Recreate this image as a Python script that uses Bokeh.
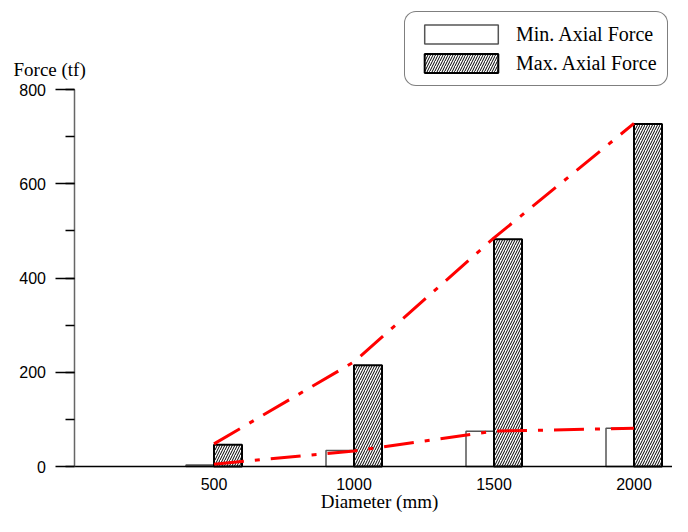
from bokeh.plotting import figure
from bokeh.models import (ColumnDataSource, Legend, LegendItem, Label, FixedTicker,
                          SingleIntervalTicker, Range1d)
from bokeh.transform import dodge
from bokeh.embed import file_html
from bokeh.resources import INLINE

# ---- data ----
diameters = [500, 1000, 1500, 2000]
min_force = [3, 34, 75, 81]
max_force = [46, 215, 482, 727]
min_trend = [5, 33, 75, 81]
max_trend = [48, 222, 485, 728]
x_ticks = [500, 1000, 1500, 2000]
series_names = ["Min. Axial Force", "Max. Axial Force"]
y_title = "Force (tf)"
x_title = "Diameter (mm)"

SERIF = "Liberation Serif"
SANS = "Liberation Sans"

W, H = 672, 516
# pixel layout of the plotting area (frame spans the whole canvas)
X0_PX, SX = 73.5, 0.28        # px of x=0, px per mm
Y0_PX, SY = 466.0, 0.47125    # px (from top) of y=0, px per tf

x_range = Range1d(-X0_PX / SX, (W - X0_PX) / SX)
y_range = Range1d(-(H - Y0_PX) / SY, Y0_PX / SY)

src = ColumnDataSource(dict(d=diameters, mn=min_force, mx=max_force,
                            tmn=min_trend, tmx=max_trend))

p = figure(width=W, height=H, output_backend="svg", toolbar_location=None,
           x_range=x_range, y_range=y_range,
           min_border_left=0, min_border_right=0, min_border_top=0,
           min_border_bottom=0, background_fill_color="white",
           border_fill_color="white")
p.outline_line_color = None
p.xgrid.visible = False
p.ygrid.visible = False

# bars
r_min = p.vbar(x=dodge("d", -50, range=p.x_range), top="mn", bottom=0, width=100,
               source=src, fill_color="white", line_color="#555555", line_width=1.5)
r_max = p.vbar(x=dodge("d", 50, range=p.x_range), top="mx", bottom=0, width=100,
               source=src, fill_color="white", line_color="black", line_width=2,
               hatch_pattern="/", hatch_color="black", hatch_weight=1, hatch_scale=5)

# trend lines
p.line(x="d", y="tmx", source=src, line_color="#ff0000", line_width=3,
       line_dash="30 11 5 11")
p.line(x="d", y="tmn", source=src, line_color="#ff0000", line_width=3,
       line_dash="30 11 5 11")

# y axis
ya = p.yaxis[0]
ya.fixed_location = 0
ya.ticker = SingleIntervalTicker(interval=200, num_minor_ticks=2)
ya.bounds = (0, 800)
ya.axis_line_color = "#666666"
ya.axis_line_width = 1.5
ya.major_tick_line_color = "black"
ya.major_tick_line_width = 1.5
ya.major_tick_out = 19
ya.major_tick_in = 0
ya.minor_tick_line_color = "black"
ya.minor_tick_line_width = 1.5
ya.minor_tick_out = 9
ya.minor_tick_in = 0
ya.major_label_standoff = 9
ya.major_label_text_font = SANS
ya.major_label_text_font_size = "16px"
ya.major_label_text_color = "black"

# x axis
xa = p.xaxis[0]
xa.fixed_location = 0
xa.ticker = FixedTicker(ticks=x_ticks, minor_ticks=[])
xa.bounds = (0, x_range.end)
xa.axis_line_color = "black"
xa.axis_line_width = 1.5
xa.major_tick_out = 0
xa.major_tick_in = 0
xa.minor_tick_out = 0
xa.minor_tick_in = 0
xa.major_label_standoff = 11
xa.major_label_text_font = SANS
xa.major_label_text_font_size = "16px"
xa.major_label_text_color = "black"

# axis titles
p.add_layout(Label(x=(13 - X0_PX) / SX, y=(Y0_PX - 68.5) / SY, text=y_title,
                   text_font=SERIF, text_font_size="19px", text_color="black",
                   text_baseline="alphabetic", text_align="left"))
p.add_layout(Label(x=(379 - X0_PX) / SX, y=(Y0_PX - 501) / SY, text=x_title,
                   text_font=SERIF, text_font_size="19px", text_color="black",
                   text_baseline="alphabetic", text_align="center"))

# legend
legend = Legend(items=[LegendItem(label=series_names[0], renderers=[r_min]),
                       LegendItem(label=series_names[1], renderers=[r_max])],
                location=(404, H - 86), glyph_width=92, glyph_height=24,
                label_standoff=9, padding=10, spacing=5, margin=0,
                label_text_font=SERIF, label_text_font_size="20px",
                label_text_color="black", border_line_color="black",
                border_line_width=1, background_fill_color="white",
                background_fill_alpha=1.0)
if "border_radius" in Legend.properties():
    legend.border_radius = 12
p.add_layout(legend)

open("out.html", "w").write(file_html(p, INLINE))
